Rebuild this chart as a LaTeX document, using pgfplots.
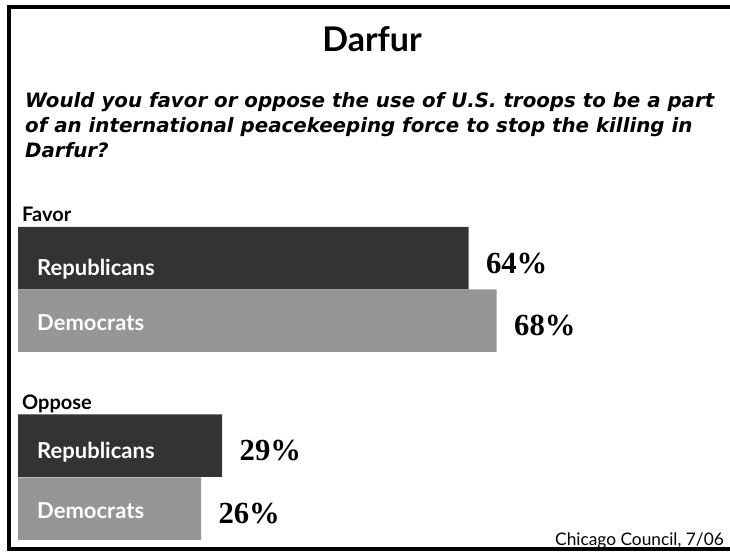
\documentclass[border=0pt]{standalone}
\usepackage{pgfplots}
\pgfplotsset{compat=1.18}
\usepackage{fontspec}
\setmainfont{Lato}
\newfontfamily\valfont{Liberation Serif}
\newfontfamily\qfont{DejaVu Sans}
\definecolor{rep}{RGB}{51,51,51}
\definecolor{dem}{RGB}{150,150,150}
\begin{document}
\begin{tikzpicture}[x=1bp, y=-1bp]
\fill[white] (-5,-5) rectangle (740,560);
\begin{axis}[
  at={(18bp,0bp)}, anchor=north west,
  scale only axis, width=704bp, height=552bp,
  xmin=0, xmax=100, ymin=0, ymax=552, y dir=reverse,
  hide axis, clip=false,
  xbar, bar width=62.5, bar shift=0pt,
  point meta=x,
  /pgf/number format/assume math mode=true,
  nodes near coords={\pgfmathprintnumber{\pgfplotspointmeta}\%},
  nodes near coords style={anchor=base west, inner sep=0pt,
    font=\valfont\bfseries\fontsize{30.67bp}{30.67bp}\selectfont,
    xshift=17.3bp, yshift=-15.3bp, text=black},
]
\addplot[fill=rep, draw=none] coordinates {(64,258) (29,445.5)};
\addplot[fill=dem, draw=none] coordinates {(68,320.5) (26,508.5)};
\end{axis}
\begin{scope}
\clip (0,0) rectangle (730,552);
\fill[black] (6.5,5) rectangle (731,9);
\fill[black] (6.5,5) rectangle (10.5,551);
\fill[black] (6.5,547) rectangle (731,551);
\end{scope}
\node[anchor=base, inner sep=0pt, font=\bfseries\fontsize{34bp}{34bp}\selectfont] at (372,52) {Darfur};
\begin{scope}[every node/.style={anchor=base west, inner sep=0pt, font=\qfont\bfseries\itshape\fontsize{19.8bp}{19.8bp}\selectfont}]
\node at (25,108) {Would you favor or oppose the use of U.S. troops to be a part};
\node at (25,133) {of an international peacekeeping force to stop the killing in};
\node at (25,158) {Darfur?};
\end{scope}
\begin{scope}[every node/.style={anchor=base west, inner sep=0pt, font=\bfseries\fontsize{20bp}{20bp}\selectfont}]
\node at (22,222) {Favor};
\node at (22,409) {Oppose};
\end{scope}
\begin{scope}[every node/.style={anchor=base west, inner sep=0pt, text=white, font=\bfseries\fontsize{22bp}{22bp}\selectfont}]
\node at (37,276) {Republicans};
\node at (37,330) {Democrats};
\node at (37,458) {Republicans};
\node at (37,518) {Democrats};
\end{scope}
\node[anchor=base east, inner sep=0pt, font=\fontsize{17.3bp}{17.3bp}\selectfont] at (724,545) {Chicago Council, 7/06};
\fill[white] (725.5,10) rectangle (731,546);
\pgfresetboundingbox
\path[use as bounding box] (0,0) rectangle (730,552);
\end{tikzpicture}
\end{document}
